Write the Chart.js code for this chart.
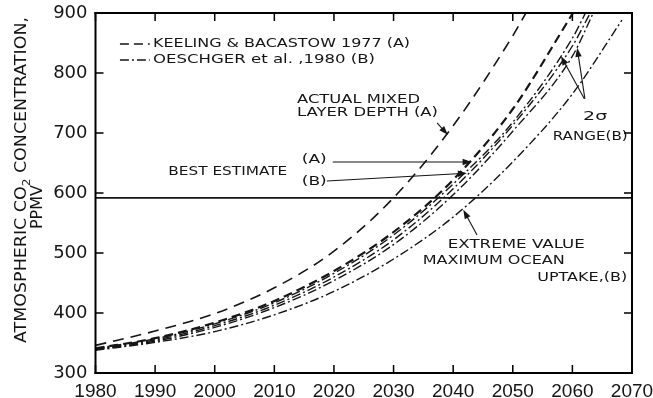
<!DOCTYPE html>
<html>
<head>
<meta charset="utf-8">
<title>Atmospheric CO2 concentration projections</title>
<script src="https://cdn.jsdelivr.net/npm/chart.js@4.4.1/dist/chart.umd.min.js"></script>
<style>
  html, body { margin: 0; padding: 0; background: #fff; }
  #box { position: relative; width: 653px; height: 398px; }
</style>
</head>
<body>
<div id="box"><canvas id="chart" width="653" height="398"></canvas></div>
<script>
// Projected atmospheric CO2 (ppmv) by year, one pair of arrays per curve.
// Each curve ends where it leaves the top of the frame.
const mixedYears = [1980, 1990, 2000, 2010, 2020, 2030, 2040, 2050, 2052.2];
const mixedPpmv  = [346, 370, 399, 442, 503, 592, 712, 862, 900];

const keelingYears = [1980, 1990, 2000, 2010, 2020, 2030, 2040, 2050, 2060.1];
const keelingPpmv  = [341, 358, 384, 420, 470, 535, 622, 740, 900];

const sigmaHighYears = [1980, 1990, 2000, 2010, 2020, 2030, 2040, 2050, 2060, 2062.2];
const sigmaHighPpmv  = [341, 357, 382, 417, 466, 530, 615, 718, 858, 900];

const oeschgerYears = [1980, 1990, 2000, 2010, 2020, 2030, 2040, 2050, 2060, 2063];
const oeschgerPpmv  = [340, 355, 379, 413, 460, 522, 607, 713, 845, 900];

const sigmaLowYears = [1980, 1990, 2000, 2010, 2020, 2030, 2040, 2050, 2060, 2063.5];
const sigmaLowPpmv  = [339, 353, 376, 409, 454, 514, 597, 703, 828, 900];

const extremeYears = [1980, 1990, 2000, 2010, 2020, 2030, 2040, 2050, 2060, 2068.3];
const extremePpmv  = [338, 351, 369, 397, 436, 490, 560, 652, 765, 888];

// Horizontal reference level (ppmv)
const referenceLevel = 592;

// Axis ticks
const yearTicks = [1980, 1990, 2000, 2010, 2020, 2030, 2040, 2050, 2060, 2070];
const ppmvTicks = [300, 400, 500, 600, 700, 800, 900];

// Line styles
const INK = '#151515';
const DASH = [9, 5];
const LONG_DASH = [11, 7];
const DASH_DOT = [9, 3, 2, 3];

const pts = (xs, ys) => xs.map((x, i) => ({ x, y: ys[i] }));
const curve = (label, xs, ys, dash, width) => ({
  label,
  data: pts(xs, ys),
  borderColor: INK,
  borderWidth: width,
  borderDash: dash,
  borderCapStyle: 'butt',
  pointRadius: 0,
  fill: false,
  cubicInterpolationMode: 'monotone'
});

const X0 = yearTicks[0], X1 = yearTicks[yearTicks.length - 1];
const Y0 = ppmvTicks[0], Y1 = ppmvTicks[ppmvTicks.length - 1];

const datasets = [
  {
    label: 'reference',
    data: [{ x: X0, y: referenceLevel }, { x: X1, y: referenceLevel }],
    borderColor: INK, borderWidth: 1.7, pointRadius: 0, fill: false
  },
  curve('Actual mixed layer depth (A)', mixedYears, mixedPpmv, LONG_DASH, 1.6),
  curve('Best estimate (A)', keelingYears, keelingPpmv, DASH, 2.2),
  curve('2 sigma high (B)', sigmaHighYears, sigmaHighPpmv, DASH_DOT, 1.4),
  curve('Best estimate (B)', oeschgerYears, oeschgerPpmv, DASH_DOT, 1.4),
  curve('2 sigma low (B)', sigmaLowYears, sigmaLowPpmv, DASH_DOT, 1.4),
  curve('Extreme value, maximum ocean uptake (B)', extremeYears, extremePpmv, DASH_DOT, 1.4)
];

// Text notes placed in data units: left edge year, middle ppmv, drawn width in px
const notes = [
  { text: 'ACTUAL MIXED',    x: 2013.8, y: 755,   w: 123 },
  { text: 'LAYER DEPTH (A)', x: 2013.8, y: 733.3, w: 141 },
  { text: 'BEST ESTIMATE',   x: 1992.2, y: 635,   w: 119 },
  { text: '(A)',             x: 2014.6, y: 655,   w: 25 },
  { text: '(B)',             x: 2014.6, y: 618.3, w: 25 },
  { text: '2\u03c3',         x: 2061.8, y: 726.7, w: 24 },
  { text: 'RANGE(B)',        x: 2056.7, y: 693.3, w: 75 },
  { text: 'EXTREME VALUE',   x: 2039.1, y: 513.3, w: 137 },
  { text: 'MAXIMUM OCEAN',   x: 2034.9, y: 486.7, w: 142 },
  { text: 'UPTAKE,(B)',      x: 2054.1, y: 458.3, w: 90 }
];

// Pointer arrows: tail and head in data units
const arrows = [
  { from: [2037.3, 716.7], to: [2039.1, 697] },
  { from: [2019.8, 651.7], to: [2043.1, 651.7] },
  { from: [2018.8, 620],   to: [2042.3, 633] },
  { from: [2062.0, 757],   to: [2058.1, 828] },
  { from: [2062.1, 757],   to: [2060.8, 842] },
  { from: [2044.0, 530],   to: [2041.7, 572] }
];

// Legend rows: sample line span (years) and ppmv row
const legendRows = [
  { text: 'KEELING & BACASTOW 1977 (A)', dash: DASH,     x0: 1984.1, x1: 1989.1, tx: 1989.65, y: 848.3, w: 257 },
  { text: 'OESCHGER et al. ,1980 (B)',   dash: DASH_DOT, x0: 1984.1, x1: 1989.1, tx: 1989.65, y: 821.7, w: 222 }
];

const LABEL_FONT = '12.5px "DejaVu Sans"';

function fitText(ctx, str, X, Y, w, font) {
  ctx.font = font;
  const m = ctx.measureText(str).width;
  ctx.save();
  ctx.translate(X, Y);
  ctx.scale(w / m, 1);
  ctx.fillText(str, 0, 0);
  ctx.restore();
}

function arrow(ctx, x0, y0, x1, y1) {
  const ang = Math.atan2(y1 - y0, x1 - x0);
  const L = 9, H = 3.2;
  ctx.beginPath();
  ctx.moveTo(x0, y0);
  ctx.lineTo(x1 - Math.cos(ang) * L * 0.6, y1 - Math.sin(ang) * L * 0.6);
  ctx.stroke();
  ctx.beginPath();
  ctx.moveTo(x1, y1);
  ctx.lineTo(x1 - Math.cos(ang) * L - Math.sin(ang) * H, y1 - Math.sin(ang) * L + Math.cos(ang) * H);
  ctx.lineTo(x1 - Math.cos(ang) * L + Math.sin(ang) * H, y1 - Math.sin(ang) * L - Math.cos(ang) * H);
  ctx.closePath();
  ctx.fill();
}

// Box frame and inward ticks, placed from the x and y scales
const framePlugin = {
  id: 'plotBox',
  afterDraw(chart) {
    const { ctx } = chart;
    const sx = chart.scales.x, sy = chart.scales.y;
    const L = sx.getPixelForValue(X0), R = sx.getPixelForValue(X1);
    const T = sy.getPixelForValue(Y1), B = sy.getPixelForValue(Y0);
    ctx.save();
    ctx.fillStyle = '#000';
    ctx.fillRect(L - 1, T - 1, R - L + 2, 2);
    ctx.fillRect(L - 1, B - 1, R - L + 2, 2);
    ctx.fillRect(L - 1, T - 1, 2, B - T + 2);
    ctx.fillRect(R - 1, T - 1, 2, B - T + 2);
    yearTicks.forEach(v => {
      const X = sx.getPixelForValue(v);
      ctx.fillRect(X - 0.75, B - 8, 1.5, 8);
      ctx.fillRect(X - 0.75, T, 1.5, 8);
    });
    ppmvTicks.forEach(v => {
      const Y = sy.getPixelForValue(v);
      ctx.fillRect(L, Y - 0.75, 8, 1.5);
      ctx.fillRect(R - 8, Y - 0.75, 8, 1.5);
    });
    ctx.restore();
  }
};

// Legend, notes, pointer arrows and the rotated axis title
const notesPlugin = {
  id: 'notes',
  afterDraw(chart) {
    const { ctx } = chart;
    const sx = chart.scales.x, sy = chart.scales.y;
    const px = v => sx.getPixelForValue(v);
    const py = v => sy.getPixelForValue(v);
    ctx.save();
    ctx.strokeStyle = INK;
    ctx.fillStyle = INK;
    ctx.textBaseline = 'middle';
    ctx.textAlign = 'left';

    legendRows.forEach(r => {
      ctx.lineWidth = 1.5;
      ctx.setLineDash(r.dash);
      ctx.beginPath();
      ctx.moveTo(px(r.x0), py(r.y)); ctx.lineTo(px(r.x1), py(r.y));
      ctx.stroke();
      ctx.setLineDash([]);
      fitText(ctx, r.text, px(r.tx), py(r.y), r.w, LABEL_FONT);
    });

    notes.forEach(n => fitText(ctx, n.text, px(n.x), py(n.y), n.w, LABEL_FONT));

    ctx.lineWidth = 1.1;
    arrows.forEach(r => arrow(ctx, px(r.from[0]), py(r.from[1]), px(r.to[0]), py(r.to[1])));

    const big = '16px "DejaVu Sans"', small = '11px "DejaVu Sans"';
    ctx.save();
    ctx.translate(26, 343);
    ctx.rotate(-Math.PI / 2);
    ctx.textBaseline = 'alphabetic';
    const partA = 'ATMOSPHERIC CO', partB = ' CONCENTRATION,';
    ctx.font = big;
    const wA = ctx.measureText(partA).width, wB = ctx.measureText(partB).width;
    ctx.font = small;
    const wS = ctx.measureText('2').width;
    ctx.scale(326 / (wA + wS + wB), 1);
    ctx.font = big;
    ctx.fillText(partA, 0, 0);
    ctx.font = small;
    ctx.fillText('2', wA, 4);
    ctx.font = big;
    ctx.fillText(partB, wA + wS, 0);
    ctx.restore();

    ctx.save();
    ctx.translate(42, 207);
    ctx.rotate(-Math.PI / 2);
    ctx.textAlign = 'center';
    ctx.textBaseline = 'alphabetic';
    ctx.font = big;
    ctx.fillText('PPMV', 0, 0);
    ctx.restore();

    ctx.restore();
  }
};

new Chart(document.getElementById('chart'), {
  type: 'line',
  data: { datasets },
  options: {
    responsive: false,
    animation: false,
    devicePixelRatio: 1,
    layout: { padding: { left: 0, right: 21, top: 13, bottom: 0 }, autoPadding: false },
    plugins: { legend: { display: false }, tooltip: { enabled: false }, title: { display: false } },
    elements: { line: { tension: 0 } },
    scales: {
      x: {
        type: 'linear',
        min: X0,
        max: X1,
        afterBuildTicks: s => { s.ticks = yearTicks.map(v => ({ value: v })); },
        afterFit: s => { s.height = 25; s.paddingLeft = 0; s.paddingRight = 0; },
        grid: { display: false, drawTicks: false },
        border: { display: false },
        ticks: {
          color: INK,
          padding: 7,
          maxRotation: 0,
          autoSkip: false,
          font: { family: '"Liberation Sans"', size: 19 },
          callback: v => String(v)
        }
      },
      y: {
        type: 'linear',
        min: Y0,
        max: Y1,
        afterBuildTicks: s => { s.ticks = ppmvTicks.map(v => ({ value: v })); },
        afterFit: s => { s.width = 95.5; s.paddingTop = 0; s.paddingBottom = 0; },
        grid: { display: false, drawTicks: false },
        border: { display: false },
        ticks: {
          color: INK,
          padding: 8,
          autoSkip: false,
          font: { family: '"DejaVu Sans"', size: 18 },
          callback: v => String(v)
        }
      }
    }
  },
  plugins: [notesPlugin, framePlugin]
});
</script>
</body>
</html>
